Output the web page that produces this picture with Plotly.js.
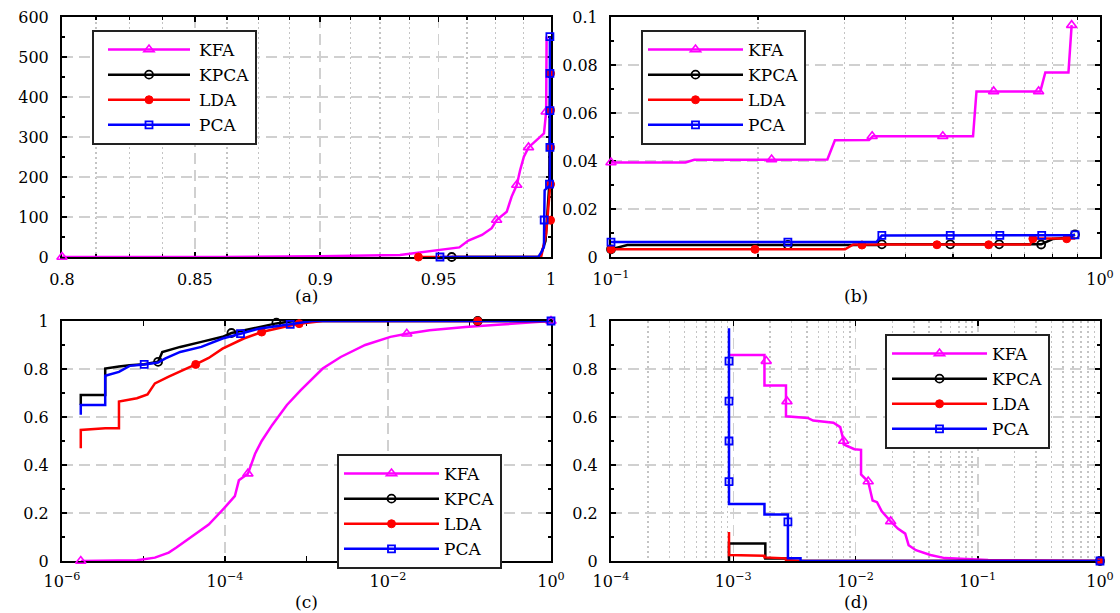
<!DOCTYPE html>
<html><head><meta charset="utf-8">
<script src="https://cdn.plot.ly/plotly-3.0.1.min.js"></script>
<style>html,body{margin:0;padding:0;background:#fff}</style>
</head><body><div id="chart" style="width:1120px;height:613px"></div>
<script>
// ---------- Panel (a) ----------
const a_kfa_x = [0.8, 0.86, 0.9, 0.9334, 0.959, 0.963, 0.969, 0.9733, 0.9755, 0.980, 0.9822, 0.9845, 0.986, 0.9877, 0.9898, 0.9935, 0.9968, 0.9978, 0.998];
const a_kfa_y = [0, 0, 2, 5, 24, 41, 55, 72, 92.5, 113, 151, 180, 217, 251, 274, 292.5, 309, 363, 551];
const a_kfa_mx = [0.8, 0.9755, 0.9845, 0.9898, 0.9978];
const a_kfa_my = [0, 92.5, 180, 274, 363];
const a_kpca_x = [0.9557, 0.995, 0.9975, 0.9985, 0.9992, 0.9995];
const a_kpca_y = [0, 0, 40, 110, 180, 400];
const a_kpca_mx = [0.9557];
const a_kpca_my = [0];
const a_lda_x = [0.9413, 0.9955, 0.9978, 0.9985, 0.9996, 0.9998];
const a_lda_y = [0, 0, 59, 109, 176, 483];
const a_lda_mx = [0.9413, 0.9998, 0.9998, 0.9998, 0.9998, 0.9998];
const a_lda_my = [0, 92, 182, 274, 367, 459];
const a_pca_x = [0.9506, 0.9942, 0.9957, 0.9968, 0.9969, 0.9971, 0.9993, 0.9995, 0.9995];
const a_pca_y = [0, 0, 13, 26, 92.5, 167, 178, 182, 551];
const a_pca_mx = [0.9506, 0.9969, 0.9993, 0.9995, 0.9995, 0.9995, 0.9995];
const a_pca_my = [0, 92.5, 182, 274, 366, 459, 551];

// ---------- Panel (b) ----------
const b_kfa_x = [0.1, 0.142, 0.148, 0.277, 0.287, 0.337, 0.343, 0.550, 0.559, 0.755, 0.773, 0.862, 0.875];
const b_kfa_y = [0.0394, 0.0394, 0.0405, 0.0406, 0.0486, 0.0487, 0.0503, 0.0503, 0.069, 0.069, 0.0769, 0.0769, 0.0966];
const b_kfa_mx = [0.1, 0.213, 0.342, 0.477, 0.606, 0.749, 0.875];
const b_kfa_my = [0.0394, 0.0406, 0.0503, 0.0503, 0.069, 0.069, 0.0966];
const b_kpca_x = [0.1, 0.108, 0.349, 0.358, 0.758, 0.80, 0.86, 0.889];
const b_kpca_y = [0.0032, 0.0050, 0.0050, 0.0053, 0.0053, 0.0075, 0.0080, 0.0094];
const b_kpca_mx = [0.1, 0.230, 0.358, 0.494, 0.622, 0.758, 0.889];
const b_kpca_my = [0.0032, 0.0050, 0.0053, 0.0053, 0.0053, 0.0052, 0.0094];
const b_lda_x = [0.1, 0.301, 0.313, 0.719, 0.731, 0.889];
const b_lda_y = [0.0032, 0.0032, 0.0052, 0.0052, 0.0077, 0.0077];
const b_lda_mx = [0.1, 0.197, 0.326, 0.464, 0.592, 0.729, 0.855];
const b_lda_my = [0.0032, 0.0032, 0.0050, 0.0051, 0.0051, 0.0076, 0.0076];
const b_pca_x = [0.1, 0.349, 0.358, 0.889];
const b_pca_y = [0.0062, 0.0062, 0.0090, 0.0091];
const b_pca_mx = [0.1, 0.230, 0.358, 0.494, 0.624, 0.760, 0.889];
const b_pca_my = [0.0062, 0.0062, 0.0090, 0.0090, 0.0090, 0.0090, 0.0092];

// ---------- Panel (c) ----------
const c_kfa_x = [1.70e-6, 8.3e-6, 1.38e-5, 2.04e-5, 2.51e-5, 4.17e-5, 6.31e-5, 9.77e-5, 1.32e-4, 1.48e-4, 1.91e-4, 2.34e-4, 2.82e-4, 3.80e-4, 5.75e-4, 8.51e-4, 1.58e-3, 2.63e-3, 5.25e-3, 0.0107, 0.0170, 0.0324, 0.0891, 0.245, 1];
const c_kfa_y = [0, 0.003, 0.014, 0.035, 0.055, 0.11, 0.152, 0.22, 0.27, 0.336, 0.364, 0.447, 0.50, 0.567, 0.65, 0.712, 0.802, 0.85, 0.90, 0.934, 0.947, 0.961, 0.975, 0.985, 1.0];
const c_kfa_mx = [1.70e-6, 1.91e-4, 0.0170, 1];
const c_kfa_my = [0, 0.364, 0.947, 1];
const c_kpca_x = [1.70e-6, 1.70e-6, 3.39e-6, 3.39e-6, 5.0e-6, 6.76e-6, 1.02e-5, 1.51e-5, 1.70e-5, 2.82e-5, 5.13e-5, 9.33e-5, 1.20e-4, 2.09e-4, 4.27e-4, 7.08e-4, 1];
const c_kpca_y = [0.65, 0.692, 0.692, 0.802, 0.81, 0.816, 0.82, 0.83, 0.871, 0.892, 0.913, 0.934, 0.95, 0.968, 0.99, 1.0, 1.0];
const c_kpca_mx = [1.51e-5, 1.20e-4, 4.27e-4, 0.126];
const c_kpca_my = [0.83, 0.95, 0.993, 1.0];
const c_lda_x = [1.70e-6, 1.70e-6, 3.39e-6, 5.0e-6, 5.0e-6, 8.3e-6, 1.12e-5, 1.38e-5, 2.04e-5, 3.09e-5, 4.37e-5, 6.31e-5, 9.33e-5, 1.70e-4, 2.82e-4, 5.25e-4, 8.13e-4, 1.58e-3, 1];
const c_lda_y = [0.47, 0.546, 0.553, 0.553, 0.664, 0.678, 0.694, 0.74, 0.768, 0.795, 0.819, 0.846, 0.885, 0.927, 0.954, 0.975, 0.989, 1.0, 1.0];
const c_lda_mx = [4.37e-5, 2.82e-4, 8.13e-4, 0.126];
const c_lda_my = [0.819, 0.954, 0.989, 1.0];
const c_pca_x = [1.70e-6, 1.70e-6, 3.39e-6, 3.39e-6, 5.0e-6, 6.76e-6, 1.02e-5, 1.51e-5, 1.86e-5, 2.82e-5, 5.13e-5, 9.33e-5, 1.55e-4, 2.57e-4, 6.31e-4, 1.17e-3, 1];
const c_pca_y = [0.609, 0.65, 0.65, 0.772, 0.788, 0.813, 0.819, 0.827, 0.844, 0.871, 0.892, 0.927, 0.947, 0.968, 0.986, 1.0, 1.0];
const c_pca_mx = [1.02e-5, 1.55e-4, 6.31e-4, 1];
const c_pca_my = [0.819, 0.947, 0.986, 1.0];

// ---------- Panel (d) ----------
const d_kfa_x = [9.23e-4, 1.80e-3, 1.80e-3, 2.70e-3, 2.70e-3, 4.07e-3, 4.5e-3, 6.6e-3, 7.5e-3, 8.0e-3, 8.0e-3, 9.8e-3, 0.0111, 0.0111, 0.0127, 0.0138, 0.0150, 0.0164, 0.0194, 0.0222, 0.0255, 0.0272, 0.0312, 0.0410, 0.0537, 0.1216, 1];
const d_kfa_y = [0.858, 0.858, 0.731, 0.731, 0.603, 0.596, 0.585, 0.576, 0.558, 0.5, 0.486, 0.466, 0.463, 0.361, 0.331, 0.252, 0.245, 0.207, 0.165, 0.135, 0.114, 0.066, 0.045, 0.025, 0.012, 0.004, 0];
const d_kfa_mx = [1.86e-3, 2.75e-3, 8.0e-3, 0.0127, 0.0194];
const d_kfa_my = [0.833, 0.665, 0.5, 0.331, 0.165];
const d_kpca_x = [9.23e-4, 9.23e-4, 1.83e-3, 1.83e-3, 2.75e-3, 2.75e-3, 1];
const d_kpca_y = [0, 0.073, 0.073, 0.01, 0.01, 0, 0];
const d_kpca_mx = [1];
const d_kpca_my = [0];
const d_lda_x = [9.23e-4, 9.23e-4, 1.80e-3, 1.80e-3, 2.70e-3, 2.70e-3, 3.55e-3, 1];
const d_lda_y = [0.121, 0.025, 0.022, 0.015, 0.011, 0.004, 0, 0];
const d_lda_mx = [1];
const d_lda_my = [0];
const d_pca_x = [9.23e-4, 9.23e-4, 1.80e-3, 1.80e-3, 2.80e-3, 2.80e-3, 3.55e-3, 3.55e-3, 1];
const d_pca_y = [0.97, 0.238, 0.238, 0.194, 0.194, 0.011, 0.011, 0, 0];
const d_pca_mx = [9.23e-4, 9.23e-4, 9.23e-4, 9.23e-4, 2.80e-3, 1];
const d_pca_my = [0.833, 0.666, 0.5, 0.331, 0.163, 0];

const seriesNames = ['KFA', 'KPCA', 'LDA', 'PCA'];
const panelLabels = ['(a)', '(b)', '(c)', '(d)'];
const a_xticks = [0.8, 0.85, 0.9, 0.95, 1];
const a_xticktext = ['0.8', '0.85', '0.9', '0.95', '1'];

// ---------- styling ----------
const FONT = 'DejaVu Serif';
const STY = {
  KFA:  {color: '#ff00ff', symbol: 'triangle-up-open', size: 9, lw: 1.6},
  KPCA: {color: '#000000', symbol: 'circle-open', size: 8, lw: 1.8},
  LDA:  {color: '#ff0000', symbol: 'circle', size: 8, lw: 1},
  PCA:  {color: '#0000ff', symbol: 'square-open', size: 7, lw: 1.8}
};
const traces = [];
function addSeries(name, xs, ys, mx, my, xa, ya, lg) {
  const st = STY[name];
  const line = {color: st.color, width: 2.5};
  const marker = {symbol: st.symbol, size: st.size, color: st.color, line: {color: st.color, width: st.lw}};
  traces.push({x: xs, y: ys, mode: 'lines', line: line, xaxis: xa, yaxis: ya, showlegend: false, cliponaxis: false, hoverinfo: 'skip'});
  traces.push({x: mx, y: my, mode: 'markers', marker: marker, xaxis: xa, yaxis: ya, showlegend: false, cliponaxis: false, hoverinfo: 'skip'});
  traces.push({x: [null], y: [null], mode: 'lines+markers', name: name, line: line, marker: marker, xaxis: xa, yaxis: ya, legend: lg, showlegend: true});
}
const P = {
  a: [[a_kfa_x, a_kfa_y, a_kfa_mx, a_kfa_my], [a_kpca_x, a_kpca_y, a_kpca_mx, a_kpca_my], [a_lda_x, a_lda_y, a_lda_mx, a_lda_my], [a_pca_x, a_pca_y, a_pca_mx, a_pca_my]],
  b: [[b_kfa_x, b_kfa_y, b_kfa_mx, b_kfa_my], [b_kpca_x, b_kpca_y, b_kpca_mx, b_kpca_my], [b_lda_x, b_lda_y, b_lda_mx, b_lda_my], [b_pca_x, b_pca_y, b_pca_mx, b_pca_my]],
  c: [[c_kfa_x, c_kfa_y, c_kfa_mx, c_kfa_my], [c_kpca_x, c_kpca_y, c_kpca_mx, c_kpca_my], [c_lda_x, c_lda_y, c_lda_mx, c_lda_my], [c_pca_x, c_pca_y, c_pca_mx, c_pca_my]],
  d: [[d_kfa_x, d_kfa_y, d_kfa_mx, d_kfa_my], [d_kpca_x, d_kpca_y, d_kpca_mx, d_kpca_my], [d_lda_x, d_lda_y, d_lda_mx, d_lda_my], [d_pca_x, d_pca_y, d_pca_mx, d_pca_my]]
};
const axmap = {a: ['x', 'y', 'legend'], b: ['x2', 'y2', 'legend2'], c: ['x3', 'y3', 'legend3'], d: ['x4', 'y4', 'legend4']};
['a', 'b', 'c', 'd'].forEach(k => {
  P[k].forEach((s, i) => addSeries(seriesNames[i], s[0], s[1], s[2], s[3], axmap[k][0], axmap[k][1], axmap[k][2]));
});

const GRID = '#d0d0d0';
function ax(extra) {
  return Object.assign({
    showline: true, linecolor: 'black', linewidth: 2, mirror: 'ticks',
    ticks: 'inside', ticklen: 5, tickwidth: 1.5, tickcolor: 'black',
    showgrid: true, gridcolor: GRID, gridwidth: 1.5, griddash: '11px,6px',
    zeroline: false, layer: 'below traces', fixedrange: true,
    tickfont: {family: FONT, size: 16, color: 'black'}
  }, extra);
}
const decade = (lo, hi) => { const v = []; for (let e = lo; e < hi; e++) for (let m = 2; m <= 9; m++) v.push(m * Math.pow(10, e)); return v; };
const sup = e => e === 0 ? '10<sup>0</sup>' : '10<sup>\u2212' + (-e) + '</sup>';
const XL = [62 / 1120, 551 / 1120], XR = [611 / 1120, 1100 / 1120];
const YT = [1 - 257 / 613, 1 - 17 / 613], YB = [1 - 561 / 613, 1 - 321 / 613];
const xstand = 7, ystand = 8;
const minorY = d => ({dtick: d, ticks: 'inside', ticklen: 3, tickwidth: 1.2, tickcolor: 'black', showgrid: false});
const minorDot = (vals, ticks) => ({tickvals: vals, ticks: ticks ? 'inside' : '', ticklen: 3, tickcolor: 'black', showgrid: true, gridcolor: '#c4c4c4', gridwidth: 1.5, griddash: '2px,3px'});

const legendBase = (x, y) => ({
  x: x, y: y, xanchor: 'left', yanchor: 'top', xref: 'paper', yref: 'paper',
  bgcolor: 'white', bordercolor: '#222', borderwidth: 2,
  font: {family: FONT, size: 17, color: 'black'}, itemwidth: 95, traceorder: 'normal', tracegroupgap: 0
});

const layout = {
  width: 1120, height: 613, margin: {l: 0, r: 0, t: 0, b: 0},
  paper_bgcolor: 'white', plot_bgcolor: 'white', showlegend: true,
  xaxis: ax({domain: XL, anchor: 'y', type: 'log', range: [Math.log10(0.8), 0], tickvals: a_xticks, ticktext: a_xticktext, ticklabelstandoff: xstand,
    minor: minorDot([0.8125, 0.825, 0.8375, 0.8625, 0.875, 0.8875, 0.9125, 0.925, 0.9375, 0.9625, 0.975, 0.9875], true)}),
  yaxis: ax({domain: YT, anchor: 'x', range: [0, 600], dtick: 100, ticklabelstandoff: ystand, minor: minorY(50)}),
  xaxis2: ax({domain: XR, anchor: 'y2', type: 'log', range: [-1, 0], tickvals: [0.1, 1], ticktext: [sup(-1), sup(0)], ticklabelstandoff: xstand,
    minor: minorDot([0.2, 0.3, 0.4, 0.5, 0.6, 0.7, 0.8, 0.9], true)}),
  yaxis2: ax({domain: YT, anchor: 'x2', range: [0, 0.1], tickvals: [0, 0.02, 0.04, 0.06, 0.08, 0.1], ticktext: ['0', '0.02', '0.04', '0.06', '0.08', '0.1'], ticklabelstandoff: ystand, minor: minorY(0.01)}),
  xaxis3: ax({domain: XL, anchor: 'y3', type: 'log', range: [-6, 0], tickvals: [1e-6, 1e-4, 1e-2, 1], ticktext: [sup(-6), sup(-4), sup(-2), sup(0)], ticklabelstandoff: 5,
    minor: {tickvals: [1e-5, 1e-3, 1e-1], ticks: 'inside', ticklen: 5, tickcolor: 'black', showgrid: false}}),
  yaxis3: ax({domain: YB, anchor: 'x3', range: [0, 1], dtick: 0.2, ticklabelstandoff: ystand, minor: minorY(0.1)}),
  xaxis4: ax({domain: XR, anchor: 'y4', type: 'log', range: [-4, 0], tickvals: [1e-4, 1e-3, 1e-2, 1e-1, 1], ticktext: [sup(-4), sup(-3), sup(-2), sup(-1), sup(0)], ticklabelstandoff: 5,
    minor: minorDot(decade(-4, 0), false)}),
  yaxis4: ax({domain: YB, anchor: 'x4', range: [0, 1], dtick: 0.2, ticklabelstandoff: ystand, minor: minorY(0.1)}),
  legend: legendBase(92 / 1120, 1 - 30 / 613),
  legend2: legendBase(641 / 1120, 1 - 30 / 613),
  legend3: legendBase(337 / 1120, 1 - 454 / 613),
  legend4: legendBase(885 / 1120, 1 - 334 / 613),
  annotations: [
    {text: panelLabels[0], x: (XL[0] + XL[1]) / 2, y: 1 - 296 / 613},
    {text: panelLabels[1], x: (XR[0] + XR[1]) / 2, y: 1 - 296 / 613},
    {text: panelLabels[2], x: (XL[0] + XL[1]) / 2, y: 1 - 602 / 613},
    {text: panelLabels[3], x: (XR[0] + XR[1]) / 2, y: 1 - 602 / 613}
  ].map(a => Object.assign(a, {xref: 'paper', yref: 'paper', showarrow: false, xanchor: 'center', yanchor: 'middle', font: {family: FONT, size: 17, color: 'black'}}))
};

Plotly.newPlot('chart', traces, layout, {staticPlot: true, displayModeBar: false}).then(gd => {
  gd.querySelectorAll('.legend .traces').forEach(t => {
    t.querySelectorAll('.legendlines path').forEach(p => p.setAttribute('d', 'M14,0h82'));
    t.querySelectorAll('.legendpoints path').forEach(q => q.setAttribute('transform', 'translate(55,0)'));
  });
});
</script></body></html>
